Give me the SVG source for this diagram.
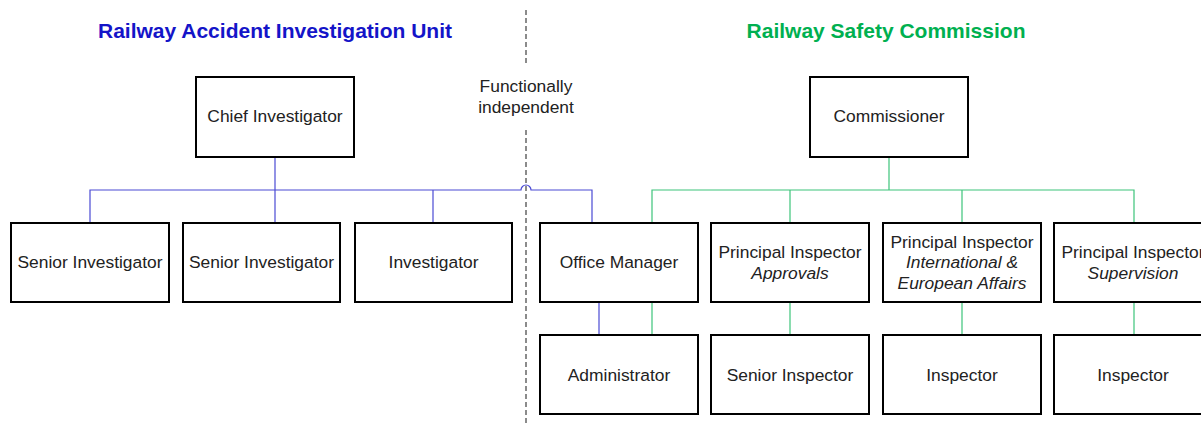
<svg xmlns="http://www.w3.org/2000/svg" width="1201" height="425" viewBox="0 0 1201 425">
<style>
.box{fill:#fff;stroke:#000;stroke-width:2}
.t{font-family:"Liberation Sans",Arial,sans-serif;font-size:17.4px;fill:#222;text-anchor:middle}
.i{font-style:italic}
.title{font-family:"Liberation Sans",Arial,sans-serif;font-size:21px;font-weight:bold;text-anchor:middle}
.bl{fill:none;stroke:#4a4ad4;stroke-width:1.2}
.gr{fill:none;stroke:#3cc47a;stroke-width:1.2}
.dash{fill:none;stroke:#666;stroke-width:1.5;stroke-dasharray:5,3}
</style>
<rect width="1201" height="425" fill="#fff"/>
<text class="title" x="275" y="38" fill="#1414c8">Railway Accident Investigation Unit</text>
<text class="title" x="886" y="38" fill="#00b050">Railway Safety Commission</text>
<g id="divider">
<line class="dash" x1="526" y1="10" x2="526" y2="64"/>
<line class="dash" x1="526" y1="130" x2="526" y2="425"/>
<text class="t" x="526" y="92">Functionally</text>
<text class="t" x="526" y="113">independent</text>
</g>
<g id="connectors">
<line class="bl" x1="275" y1="157" x2="275" y2="190"/>
<path class="bl" d="M90,223 V190 H521 A5,5 0 0 1 531,190 H592 V223"/>
<line class="bl" x1="275" y1="190" x2="275" y2="223"/>
<line class="bl" x1="433" y1="190" x2="433" y2="223"/>
<line class="bl" x1="599" y1="302" x2="599" y2="335"/>
<line class="gr" x1="889" y1="157" x2="889" y2="190"/>
<path class="gr" d="M652,223 V190 H1134 V223"/>
<line class="gr" x1="790" y1="190" x2="790" y2="223"/>
<line class="gr" x1="962" y1="190" x2="962" y2="223"/>
<line class="gr" x1="652" y1="302" x2="652" y2="335"/>
<line class="gr" x1="790" y1="302" x2="790" y2="335"/>
<line class="gr" x1="962" y1="302" x2="962" y2="335"/>
<line class="gr" x1="1134" y1="302" x2="1134" y2="335"/>
</g>
<g id="chief-investigator"><rect class="box" x="196" y="77" width="158" height="80"/><text class="t" x="275" y="122">Chief Investigator</text></g>
<g id="senior-investigator-1"><rect class="box" x="11" y="223" width="158" height="79"/><text class="t" x="90" y="268">Senior Investigator</text></g>
<g id="senior-investigator-2"><rect class="box" x="183" y="223" width="157" height="79"/><text class="t" x="261.5" y="268">Senior Investigator</text></g>
<g id="investigator"><rect class="box" x="355" y="223" width="157" height="79"/><text class="t" x="433.5" y="268">Investigator</text></g>
<g id="office-manager"><rect class="box" x="540" y="223" width="158" height="79"/><text class="t" x="619" y="268">Office Manager</text></g>
<g id="administrator"><rect class="box" x="540" y="335" width="158" height="79"/><text class="t" x="619" y="381">Administrator</text></g>
<g id="commissioner"><rect class="box" x="810" y="77" width="158" height="80"/><text class="t" x="889" y="122">Commissioner</text></g>
<g id="pi-approvals"><rect class="box" x="711" y="223" width="158" height="79"/><text class="t" x="790" y="258">Principal Inspector</text><text class="t i" x="790" y="279">Approvals</text></g>
<g id="pi-international"><rect class="box" x="883" y="223" width="158" height="79"/><text class="t" x="962" y="248">Principal Inspector</text><text class="t i" x="962" y="268">International &amp;</text><text class="t i" x="962" y="289">European Affairs</text></g>
<g id="pi-supervision"><rect class="box" x="1054" y="223" width="158" height="79"/><text class="t" x="1133" y="258">Principal Inspector</text><text class="t i" x="1133" y="279">Supervision</text></g>
<g id="senior-inspector"><rect class="box" x="711" y="335" width="158" height="79"/><text class="t" x="790" y="381">Senior Inspector</text></g>
<g id="inspector-1"><rect class="box" x="883" y="335" width="158" height="79"/><text class="t" x="962" y="381">Inspector</text></g>
<g id="inspector-2"><rect class="box" x="1054" y="335" width="158" height="79"/><text class="t" x="1133" y="381">Inspector</text></g>
</svg>
